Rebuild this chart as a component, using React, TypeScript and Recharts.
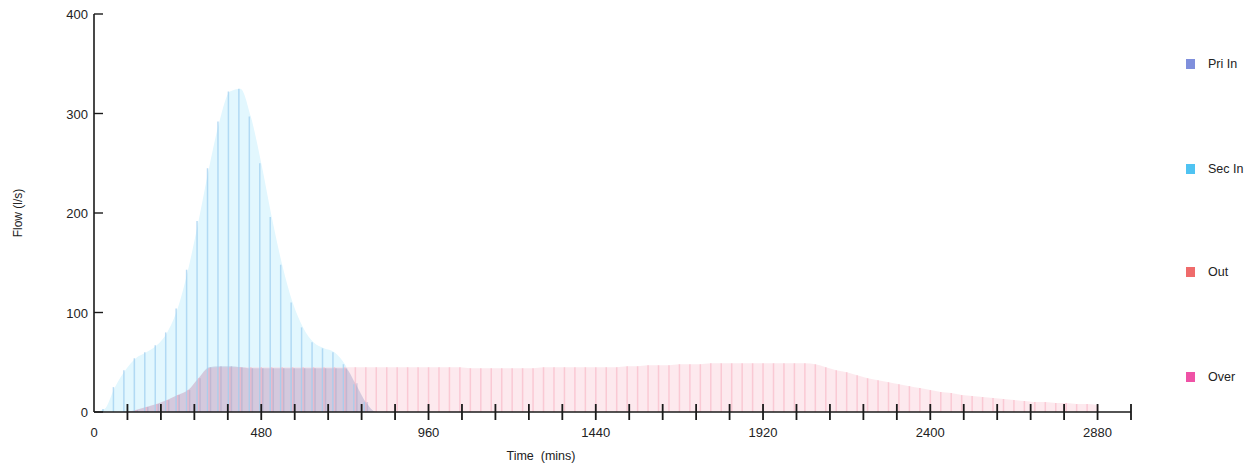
import React from "react";
import { ComposedChart, Area, Bar, XAxis, YAxis } from "recharts";

// time in minutes, 30 min steps
const times = [
  0, 30, 60, 90, 120, 150, 180, 210, 240, 270, 300, 330, 360, 390, 420, 450, 480, 510, 540, 570,
  600, 630, 660, 690, 720, 750, 780, 810, 840, 870, 900, 930, 960, 990, 1020, 1050, 1080, 1110, 1140, 1170,
  1200, 1230, 1260, 1290, 1320, 1350, 1380, 1410, 1440, 1470, 1500, 1530, 1560, 1590, 1620, 1650, 1680, 1710, 1740, 1770,
  1800, 1830, 1860, 1890, 1920, 1950, 1980, 2010, 2040, 2070, 2100, 2130, 2160, 2190, 2220, 2250, 2280, 2310, 2340, 2370,
  2400, 2430, 2460, 2490, 2520, 2550, 2580, 2610, 2640, 2670, 2700, 2730, 2760, 2790, 2820, 2850, 2880,
];

const secIn = [
  0, 3, 25, 42, 54, 60, 67, 80, 104, 143, 192, 245, 292, 322, 325, 297, 250, 196, 148, 110,
  85, 70, 64, 60, 48, 28, 10, 0, 0, 0, 0, 0, 0, 0, 0, 0, 0, 0, 0, 0,
  0, 0, 0, 0, 0, 0, 0, 0, 0, 0, 0, 0, 0, 0, 0, 0, 0, 0, 0, 0,
  0, 0, 0, 0, 0, 0, 0, 0, 0, 0, 0, 0, 0, 0, 0, 0, 0, 0, 0, 0,
  0, 0, 0, 0, 0, 0, 0, 0, 0, 0, 0, 0, 0, 0, 0, 0, 0,
];

const priIn = [
  0, 0, 0, 0, 2, 5, 8, 12, 17, 22, 34, 45, 46, 46, 45, 44, 44, 44, 44, 44,
  44, 44, 44, 44, 44, 29, 10, 0, 0, 0, 0, 0, 0, 0, 0, 0, 0, 0, 0, 0,
  0, 0, 0, 0, 0, 0, 0, 0, 0, 0, 0, 0, 0, 0, 0, 0, 0, 0, 0, 0,
  0, 0, 0, 0, 0, 0, 0, 0, 0, 0, 0, 0, 0, 0, 0, 0, 0, 0, 0, 0,
  0, 0, 0, 0, 0, 0, 0, 0, 0, 0, 0, 0, 0, 0, 0, 0, 0,
];

const out = [
  0, 0, 0, 0, 2, 5, 8, 12, 17, 22, 34, 44, 45, 45, 45, 45, 45, 45, 45, 45,
  45, 45, 45, 45, 45, 45, 45, 45, 45, 45, 45, 45, 45, 45, 45, 45, 44, 44, 44, 44,
  44, 44, 44, 45, 45, 45, 45, 45, 45, 45, 45, 46, 46, 47, 47, 47, 48, 48, 48, 49,
  49, 49, 49, 49, 49, 49, 49, 49, 49, 48, 45, 42, 40, 37, 34, 32, 30, 28, 26, 24,
  22, 20, 19, 17, 16, 15, 14, 13, 12, 11, 10, 10, 9, 9, 8, 8, 7,
];

const xTicks = [
  0, 96, 192, 288, 384, 480, 576, 672, 768, 864, 960, 1056, 1152, 1248, 1344, 1440,
  1536, 1632, 1728, 1824, 1920, 2016, 2112, 2208, 2304, 2400, 2496, 2592, 2688, 2784, 2880, 2976,
];
const yTicks = [0, 100, 200, 300, 400];

const legendItems = [
  { name: "Pri In", color: "#7f8fdc", top: 64 },
  { name: "Sec In", color: "#4fc3f2", top: 169 },
  { name: "Out", color: "#ef6b6b", top: 272 },
  { name: "Over", color: "#ef52a6", top: 377 },
];

const data = times.map((t, i) => ({ t, pri: priIn[i], sec: secIn[i], out: out[i] }));

const FONT = "'Liberation Sans', Arial, sans-serif";

const XTick = (props: any) => {
  const { x, y, payload } = props;
  const v = payload.value;
  return (
    <g>
      {v > 0 && <line x1={x} x2={x} y1={y - 8} y2={y + 8} stroke="#1a1a1a" strokeWidth={1.8} />}
      {v % 480 === 0 && (
        <text x={x} y={y + 25} textAnchor="middle" fontSize={13} fill="#222" fontFamily={FONT}>
          {v}
        </text>
      )}
    </g>
  );
};

const YTick = (props: any) => {
  const { x, y, payload } = props;
  return (
    <g>
      <line x1={x} x2={x + 9} y1={y} y2={y} stroke="#1a1a1a" strokeWidth={1.4} />
      <text x={x - 6} y={y + 5} textAnchor="end" fontSize={13} fill="#222" fontFamily={FONT}>
        {payload.value}
      </text>
    </g>
  );
};

export default function App() {
  return (
    <div style={{ position: "absolute", left: 0, top: 0, width: 1257, height: 468, background: "#fff", fontFamily: FONT }}>
      <ComposedChart
        width={1257}
        height={468}
        data={data}
        margin={{ top: 14, right: 126, bottom: 55, left: 93 }}
        barGap={0}
      >
        <XAxis
          dataKey="t"
          type="number"
          domain={[0, 2976]}
          ticks={xTicks}
          tick={<XTick />}
          tickSize={0}
          tickMargin={0}
          tickLine={false}
          interval={0}
          height={1}
          axisLine={{ stroke: "#1a1a1a", strokeWidth: 1.6 }}
        />
        <YAxis
          type="number"
          domain={[0, 400]}
          ticks={yTicks}
          tick={<YTick />}
          tickSize={0}
          tickMargin={0}
          tickLine={false}
          interval={0}
          width={1}
          axisLine={{ stroke: "#1a1a1a", strokeWidth: 1.6 }}
        />
        <Area type="monotone" dataKey="sec" stroke="none" fill="#e2f7fe" fillOpacity={1} isAnimationActive={false} />
        <Area type="monotone" dataKey="out" stroke="none" fill="#fbd4de" fillOpacity={0.5} isAnimationActive={false} />
        <Area type="monotone" dataKey="pri" stroke="none" fill="#9a90bc" fillOpacity={0.32} isAnimationActive={false} />
        <Bar dataKey="sec" barSize={1.5} fill="#9ccdf0" fillOpacity={0.7} isAnimationActive={false} />
        <Bar dataKey="out" barSize={1.5} fill="#f7aec0" fillOpacity={0.55} isAnimationActive={false} />
        <Bar dataKey="pri" barSize={1.5} fill="#a8a4c8" fillOpacity={0.45} isAnimationActive={false} />
      </ComposedChart>

      <div
        style={{
          position: "absolute",
          left: 18,
          top: 213,
          transform: "translate(-50%, -50%) rotate(-90deg)",
          fontSize: 12,
          color: "#222",
          whiteSpace: "nowrap",
        }}
      >
        Flow (l/s)
      </div>
      <div
        style={{
          position: "absolute",
          left: 541,
          top: 456,
          transform: "translate(-50%, -50%)",
          fontSize: 12.5,
          color: "#222",
          whiteSpace: "pre",
        }}
      >
        {"Time  (mins)"}
      </div>

      {legendItems.map((item) => (
        <div
          key={item.name}
          style={{
            position: "absolute",
            left: 1186,
            top: item.top - 6,
            height: 12,
            display: "flex",
            alignItems: "center",
            fontSize: 12.5,
            color: "#222",
            whiteSpace: "nowrap",
          }}
        >
          <span style={{ display: "inline-block", width: 9, height: 10, background: item.color, marginRight: 13 }} />
          {item.name}
        </div>
      ))}
    </div>
  );
}
